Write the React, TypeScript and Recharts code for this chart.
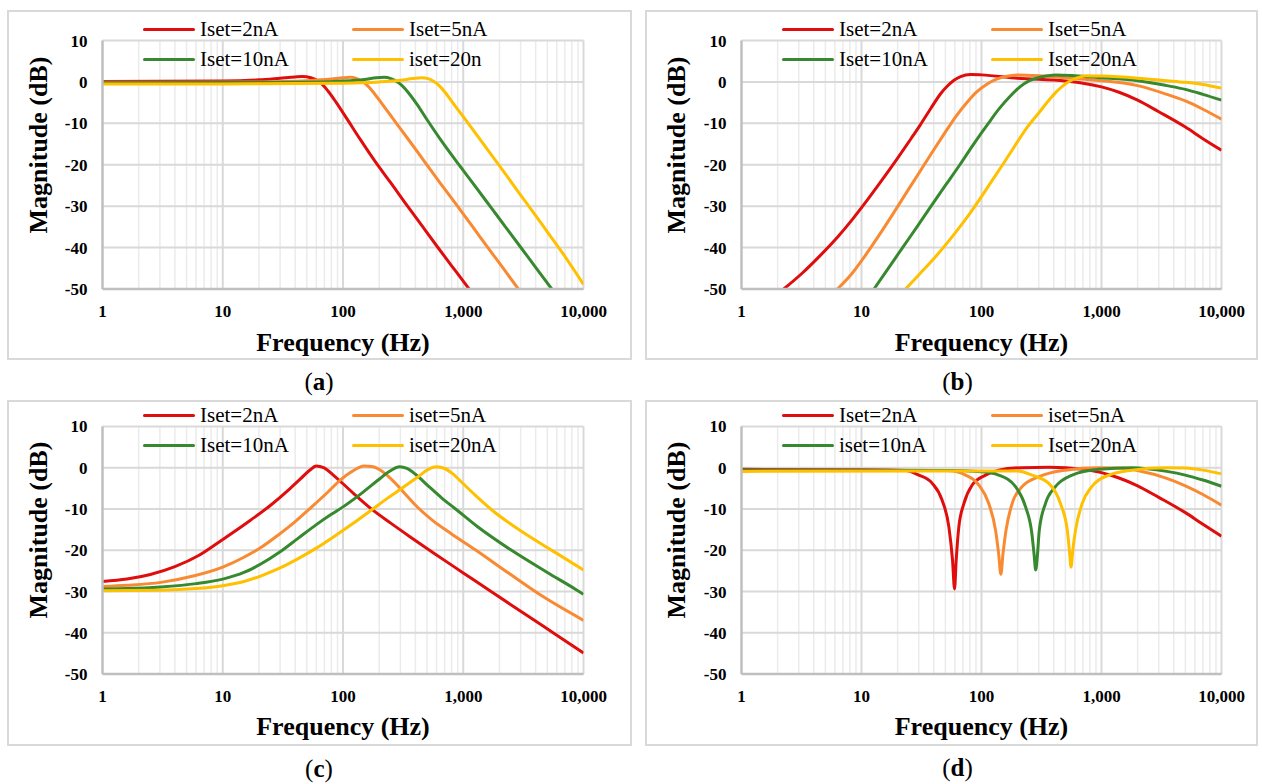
import React from 'react';
import { LineChart, Line, XAxis, YAxis, CartesianGrid, Legend } from 'recharts';

type Pt = [number, number];

// ---------- axes ----------
const xTicks = [1, 10, 100, 1000, 10000];
const xTickLabels = ['1', '10', '100', '1,000', '10,000'];
const yTicks = [-50, -40, -30, -20, -10, 0, 10];
const majorF = [10, 100, 1000, 10000];
const minorF = [2, 3, 4, 5, 6, 7, 8, 9, 20, 30, 40, 50, 60, 70, 80, 90, 200, 300, 400, 500, 600, 700, 800, 900, 2000, 3000, 4000, 5000, 6000, 7000, 8000, 9000];

const colors = ['#E00D0D', '#F98A32', '#37892F', '#FFC000'];

// ---------- panel (a) ----------
const namesA = ['Iset=2nA', 'Iset=5nA', 'Iset=10nA', 'iset=20n'];
const aRed: Pt[] = [[1, 0.1], [10, 0.2], [20, 0.5], [30, 0.9], [40, 1.2], [46, 1.3], [54, 1.0], [64, 0], [75, -2.2], [88, -5], [110, -9.3], [140, -14], [183, -19], [250, -24.4], [325, -29], [450, -34.6], [620, -40.1], [850, -45.4], [1120, -50]];
const aOrange: Pt[] = [[1, -0.1], [20, 0], [50, 0.3], [80, 0.7], [100, 1.0], [115, 1.1], [130, 0.8], [145, 0.1], [160, -0.9], [180, -2.6], [215, -5.6], [278, -10], [350, -13.9], [478, -19.3], [650, -24.6], [880, -29.7], [1200, -35], [1620, -40.2], [2200, -45.4], [2870, -50]];
const aGreen: Pt[] = [[1, -0.2], [50, -0.1], [100, 0.2], [150, 0.6], [190, 1.0], [220, 1.1], [250, 0.8], [280, 0.1], [310, -0.9], [350, -2.6], [410, -5.3], [510, -9.5], [650, -14.0], [910, -19.8], [1250, -25.1], [1730, -30.6], [2300, -35.4], [3090, -40.4], [4100, -45.2], [5450, -50]];
const aYellow: Pt[] = [[1, -0.5], [10, -0.5], [100, -0.3], [200, 0], [300, 0.4], [380, 0.8], [450, 1.0], [510, 0.8], [570, 0.1], [630, -0.9], [710, -2.6], [840, -5.5], [1100, -10], [1500, -15.3], [2030, -20.5], [2750, -25.8], [3720, -31], [5000, -36.2], [6800, -41.6], [10000, -48.9]];

// ---------- panel (b) ----------
const namesB = ['Iset=2nA', 'Iset=5nA', 'Iset=10nA', 'Iset=20nA'];
const bRed: Pt[] = [[2.25, -50], [3.2, -46.2], [4.5, -42], [6.3, -37.5], [8.5, -33], [11.2, -28.5], [15, -23.5], [20, -18.4], [26, -13.6], [31, -10.3], [38, -6.3], [45.8, -2.8], [52, -1.0], [59, 0.4], [67, 1.3], [81, 1.8], [100, 1.7], [200, 0.9], [500, 0.2], [700, -0.3], [1000, -1.2], [1400, -2.5], [2000, -4.4], [3000, -7.2], [5000, -10.9], [7000, -13.7], [10000, -16.5]];
const bOrange: Pt[] = [[6.3, -50], [8.3, -46.3], [10.7, -42], [13.8, -37.3], [17.8, -32.4], [22.9, -27.4], [29.5, -22.4], [38, -17.4], [49, -12.5], [61.7, -8.2], [75.9, -4.9], [91.2, -2.4], [110, -0.6], [132, 0.6], [158, 1.3], [200, 1.7], [302, 1.5], [500, 1.0], [1000, 0.3], [2000, -0.9], [3500, -3], [5000, -4.6], [7000, -6.6], [10000, -9]];
const bGreen: Pt[] = [[12.7, -50], [17, -44.7], [22, -40], [29, -35], [38, -30], [50, -25], [66, -20], [86, -15], [114, -10], [141, -6.4], [174, -3.4], [209, -1.2], [251, 0.3], [302, 1.1], [355, 1.5], [414, 1.7], [600, 1.5], [1000, 1.0], [2000, 0.3], [3500, -0.9], [5000, -1.8], [7000, -3], [10000, -4.4]];
const bYellow: Pt[] = [[23.3, -50], [30, -46.6], [40, -42.7], [52, -38.8], [66, -35], [82, -31.3], [100, -27.7], [122, -23.9], [150, -20], [190, -15.4], [240, -11], [300, -7.5], [360, -4.6], [420, -2.4], [480, -0.9], [537, 0.1], [631, 1.0], [736, 1.5], [1000, 1.4], [2000, 0.9], [3500, 0.3], [5000, -0.1], [7000, -0.6], [10000, -1.5]];

// ---------- panel (c) ----------
const namesC = ['Iset=2nA', 'iset=5nA', 'Iset=10nA', 'iset=20nA'];
const cRed: Pt[] = [[1, -27.6], [1.6, -27.0], [2.5, -25.9], [4, -24.0], [6.3, -21.3], [10, -17.4], [15.8, -13.4], [25, -9.1], [35.5, -5.3], [44.7, -2.6], [52.5, -0.7], [60, 0.4], [69, 0], [83, -1.8], [100, -3.9], [126, -6.6], [172, -10.0], [251, -13.5], [355, -16.6], [562, -20.6], [1000, -25.5], [1778, -30.4], [3162, -35.2], [5623, -40.05], [10000, -44.9]];
const cOrange: Pt[] = [[1, -28.8], [1.6, -28.5], [3.06, -27.8], [5.8, -26.2], [10, -24.1], [15, -21.7], [20.9, -19.3], [29, -16.3], [39.6, -13.2], [55, -9.5], [75, -5.9], [95, -3.0], [115, -1.2], [135, 0], [150, 0.4], [178, 0.2], [214, -1.0], [269, -3.6], [339, -6.8], [417, -9.6], [562, -12.9], [794, -16.0], [1259, -19.9], [2291, -25.2], [4467, -31], [10000, -37]];
const cGreen: Pt[] = [[1, -29.4], [1.6, -29.3], [3.06, -28.9], [6, -28.1], [10, -27], [15, -25.4], [20.9, -23.3], [30, -20.4], [42, -17.2], [60, -13.8], [80, -11.3], [100, -9.5], [140, -6.4], [196, -3.0], [240, -1.0], [297, 0.2], [340, -0.2], [400, -1.6], [510, -4.4], [660, -7.3], [880, -10.2], [1300, -14.2], [2540, -20.1], [5000, -25.4], [8500, -29.4], [10000, -30.7]];
const cYellow: Pt[] = [[1, -29.8], [3.06, -29.7], [6, -29.3], [10, -28.6], [15, -27.6], [20.9, -26.2], [30, -24.3], [42, -22.1], [60, -19.5], [85, -16.6], [120, -13.6], [170, -10.4], [240, -7.2], [330, -4.4], [430, -2.0], [500, -0.6], [600, 0.2], [700, -0.2], [820, -1.5], [975, -3.6], [1250, -6.6], [1720, -10.2], [3000, -15.3], [5500, -20.1], [10000, -24.8]];

// ---------- panel (d) ----------
const namesD = ['Iset=2nA', 'iset=5nA', 'iset=10nA', 'Iset=20nA'];
const dRed: Pt[] = [[1, -0.4], [10, -0.5], [23.3, -0.7], [30, -1.8], [38.9, -3.8], [47, -7.9], [53.5, -14.4], [57.4, -22.5], [59.6, -29.4], [61.5, -22.5], [64.7, -14.4], [71.3, -8.7], [83.7, -4.2], [108, -1.8], [139, -0.6], [218, 0], [364, 0.1], [700, -0.4], [1000, -1.2], [1400, -2.5], [2000, -4.4], [3000, -7.2], [5000, -10.9], [7000, -13.7], [10000, -16.6]];
const dOrange: Pt[] = [[1, -0.6], [20, -0.6], [53, -0.7], [73.6, -1.8], [95, -4.2], [115, -8.7], [131, -15.2], [139, -20.9], [145, -25.8], [151, -20.9], [160, -15.2], [180, -8.7], [218, -4.6], [300, -2.2], [500, -0.6], [950, 0], [1500, -0.1], [2000, -0.7], [3500, -2.6], [5000, -4.4], [7000, -6.5], [10000, -9.1]];
const dGreen: Pt[] = [[1, -0.6], [50, -0.7], [101, -1.0], [139, -1.8], [192, -4.6], [233, -9.5], [263, -16], [274, -20.9], [283, -24.8], [293, -20.9], [303, -15.2], [341, -8.7], [413, -4.6], [570, -1.8], [950, -0.4], [1800, 0], [3500, -0.9], [5000, -1.8], [7000, -3], [10000, -4.5]];
const dYellow: Pt[] = [[1, -0.9], [50, -0.8], [200, -0.8], [263, -1.8], [364, -3.8], [455, -8.7], [519, -15.2], [540, -20.1], [558, -24.1], [576, -20.1], [607, -15.2], [690, -8.7], [830, -4.6], [1150, -1.8], [1800, -0.6], [3400, 0], [5000, -0.1], [7000, -0.6], [10000, -1.5]];

const FONT = "'Liberation Serif', 'Times New Roman', serif";

type Box = { x: number; y: number; w: number; h: number };
type Plot = { l: number; t: number; r: number; b: number };

interface PanelProps {
  box: Box;
  plot: Plot;
  names: string[];
  series: Pt[][];
  legendTop: number;
  legendLeft: number;
  tag: string;
  tagY: number;
  yTitleY: number;
  xTitleY: number;
}

const toRows = (pts: Pt[]) => pts.map(([f, db]) => ({ f, db }));

const makeLegend = (names: string[]) => (props: any) => {
  const payload: any[] = [...(props.payload || [])].sort(
    (a: any, b: any) => names.indexOf(a.value) - names.indexOf(b.value)
  );
  return (
    <div style={{ position: 'relative', width: 430, height: 60 }}>
      {payload.map((p: any, i: number) => (
        <div
          key={i}
          style={{
            position: 'absolute',
            left: (i % 2) * 209,
            top: Math.floor(i / 2) * 30,
            height: 30,
            display: 'flex',
            alignItems: 'center',
            whiteSpace: 'nowrap',
          }}
        >
          <span style={{ display: 'inline-block', width: 52, height: 3, background: p.color, borderRadius: 2 }} />
          <span style={{ marginLeft: 5, fontFamily: FONT, fontSize: 21, color: '#000', lineHeight: '30px' }}>{p.value}</span>
        </div>
      ))}
    </div>
  );
};

function Panel(props: PanelProps) {
  const { box, plot, names, series, legendTop, legendLeft, tag, tagY, yTitleY, xTitleY } = props;
  const yw = 60;
  const xh = 30;
  const margin = {
    top: plot.t - box.y,
    right: box.x + box.w - plot.r,
    bottom: box.y + box.h - plot.b - xh,
    left: plot.l - box.x - yw,
  };
  const tickStyle = { fill: '#000', fontSize: 17, fontWeight: 'bold' as const, fontFamily: FONT };
  const plotCx = (plot.l + plot.r) / 2;
  return (
    <>
      <div style={{ position: 'absolute', left: box.x, top: box.y, width: box.w, height: box.h }}>
        <LineChart width={box.w} height={box.h} margin={margin} style={{ fontFamily: FONT }}>
          <CartesianGrid horizontal={false} verticalValues={minorF} stroke="#ebebeb" strokeWidth={1.5} />
          <CartesianGrid horizontalValues={yTicks} verticalValues={majorF} stroke="#d9d9d9" strokeWidth={2} />
          <XAxis
            type="number"
            dataKey="f"
            scale="log"
            domain={[1, 10000]}
            ticks={xTicks}
            allowDataOverflow
            tickFormatter={(v: number) => xTickLabels[xTicks.indexOf(v)] ?? String(v)}
            tickLine={false}
            tickSize={0}
            tickMargin={16}
            height={xh}
            axisLine={{ stroke: '#bfbfbf', strokeWidth: 2.5 }}
            tick={tickStyle}
            interval={0}
          />
          <YAxis
            type="number"
            domain={[-50, 10]}
            ticks={yTicks}
            allowDataOverflow
            tickLine={false}
            tickSize={0}
            tickMargin={15}
            width={yw}
            axisLine={{ stroke: '#bfbfbf', strokeWidth: 2.5 }}
            tick={tickStyle}
            interval={0}
          />
          <Legend
            layout="vertical"
            align="center"
            verticalAlign="middle"
            content={makeLegend(names)}
            wrapperStyle={{ left: legendLeft, top: legendTop, width: 430, height: 60 }}
          />
          {series.map((s, i) => (
            <Line
              key={names[i]}
              data={toRows(s)}
              dataKey="db"
              name={names[i]}
              type="monotone"
              stroke={colors[i]}
              strokeWidth={3}
              dot={false}
              activeDot={false}
              isAnimationActive={false}
            />
          ))}
        </LineChart>
      </div>
      <div
        style={{
          position: 'absolute',
          left: box.x,
          top: box.y,
          width: box.w,
          height: box.h,
          boxSizing: 'border-box',
          border: '2px solid #d9d9d9',
          pointerEvents: 'none',
        }}
      />
      <div
        style={{
          position: 'absolute',
          left: box.x + 31.5,
          top: yTitleY,
          transform: 'translate(-50%, -50%) rotate(-90deg)',
          fontFamily: FONT,
          fontWeight: 'bold',
          fontSize: 26,
          lineHeight: 1,
          whiteSpace: 'nowrap',
          color: '#000',
        }}
      >
        Magnitude (dB)
      </div>
      <div
        style={{
          position: 'absolute',
          left: plotCx,
          top: xTitleY,
          transform: 'translate(-50%, -50%)',
          fontFamily: FONT,
          fontWeight: 'bold',
          fontSize: 26,
          lineHeight: 1,
          whiteSpace: 'nowrap',
          color: '#000',
        }}
      >
        Frequency (Hz)
      </div>
      <div
        style={{
          position: 'absolute',
          left: plotCx - 24,
          top: tagY,
          transform: 'translate(-50%, -50%)',
          fontFamily: FONT,
          fontSize: 25,
          lineHeight: 1,
          whiteSpace: 'nowrap',
          color: '#000',
        }}
      >
        (<b>{tag}</b>)
      </div>
    </>
  );
}

export default function App() {
  return (
    <div style={{ position: 'absolute', left: 0, top: 0, width: 1262, height: 784, background: '#fff', overflow: 'hidden' }}>
      <Panel
        box={{ x: 7, y: 10, w: 625, h: 350 }}
        plot={{ l: 102.5, t: 40.5, r: 583.5, b: 289 }}
        names={namesA}
        series={[aRed, aOrange, aGreen, aYellow]}
        legendTop={4}
        legendLeft={136}
        tag="a"
        tagY={381}
        yTitleY={145}
        xTitleY={343}
      />
      <Panel
        box={{ x: 645, y: 10, w: 613, h: 350 }}
        plot={{ l: 741.5, t: 40.5, r: 1221.5, b: 289 }}
        names={namesB}
        series={[bRed, bOrange, bGreen, bYellow]}
        legendTop={4}
        legendLeft={137}
        tag="b"
        tagY={381}
        yTitleY={145}
        xTitleY={343}
      />
      <Panel
        box={{ x: 7, y: 400, w: 625, h: 346 }}
        plot={{ l: 102.5, t: 426.4, r: 583.5, b: 674 }}
        names={namesC}
        series={[cRed, cOrange, cGreen, cYellow]}
        legendTop={0}
        legendLeft={136}
        tag="c"
        tagY={768}
        yTitleY={530}
        xTitleY={726.5}
      />
      <Panel
        box={{ x: 645, y: 400, w: 613, h: 346 }}
        plot={{ l: 741.5, t: 426.4, r: 1221.5, b: 674 }}
        names={namesD}
        series={[dRed, dOrange, dGreen, dYellow]}
        legendTop={0}
        legendLeft={137}
        tag="d"
        tagY={767}
        yTitleY={530}
        xTitleY={726.5}
      />
    </div>
  );
}
